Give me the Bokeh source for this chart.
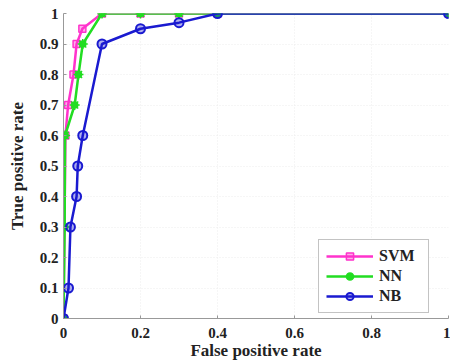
from bokeh.plotting import figure
from bokeh.models import Range1d, FixedTicker, Legend, LegendItem
from bokeh.embed import file_html
from bokeh.resources import INLINE

svm_x = [0, 0.005, 0.012, 0.026, 0.034, 0.049, 0.1, 0.2, 0.3, 0.4, 1.0]
svm_y = [0, 0.6, 0.7, 0.8, 0.9, 0.95, 1, 1, 1, 1, 1]
nn_x = [0, 0.003, 0.004, 0.029, 0.039, 0.05, 0.1, 0.2, 0.3, 0.4, 1.0]
nn_y = [0, 0.3, 0.6, 0.7, 0.8, 0.9, 1, 1, 1, 1, 1]
nb_x = [0, 0.013, 0.018, 0.034, 0.037, 0.05, 0.1, 0.2, 0.3, 0.4, 1.0]
nb_y = [0, 0.1, 0.3, 0.4, 0.5, 0.6, 0.9, 0.95, 0.97, 1, 1]

x_ticks = [0, 0.2, 0.4, 0.6, 0.8, 1]
y_ticks = [0, 0.1, 0.2, 0.3, 0.4, 0.5, 0.6, 0.7, 0.8, 0.9, 1]
x_labels = {0: "0", 0.2: "0.2", 0.4: "0.4", 0.6: "0.6", 0.8: "0.8", 1: "1"}
y_labels = {0: "0", 0.1: "0.1", 0.2: "0.2", 0.3: "0.3", 0.4: "0.4", 0.5: "0.5",
            0.6: "0.6", 0.7: "0.7", 0.8: "0.8", 0.9: "0.9", 1: "1"}

FONT = "'Liberation Serif', serif"

p = figure(width=450, height=362, output_backend="svg", toolbar_location=None,
           x_range=Range1d(0, 1), y_range=Range1d(0, 1),
           min_border_left=63, min_border_right=2, min_border_top=13, min_border_bottom=41)
p.outline_line_color = None
p.background_fill_color = "white"

for ax in (p.xaxis[0], p.yaxis[0]):
    ax.major_label_text_font = FONT
    ax.major_label_text_font_style = "bold"
    ax.major_label_text_font_size = "15px"
    ax.major_label_text_color = "#222222"
    ax.axis_label_text_font = FONT
    ax.axis_label_text_font_style = "bold"
    ax.axis_label_text_font_size = "17px"
    ax.axis_label_text_color = "#222222"
    ax.axis_line_color = "#999999"
    ax.major_tick_line_color = "#999999"
    ax.major_tick_in = 3
    ax.major_tick_out = 0
    ax.minor_tick_line_color = None

p.xaxis.ticker = FixedTicker(ticks=x_ticks)
p.yaxis.ticker = FixedTicker(ticks=y_ticks)
p.xaxis.major_label_overrides = x_labels
p.yaxis.major_label_overrides = y_labels
p.xaxis.axis_label = "False positive rate"
p.yaxis.axis_label = "True positive rate"
p.xaxis.major_label_standoff = 9
p.xaxis.axis_label_standoff = 0
p.yaxis.major_label_standoff = 5
p.yaxis.axis_label_standoff = 10

p.grid.grid_line_color = "#ececec"
p.grid.grid_line_dash = "1 2"

svm_col = "#ff33cc"
nn_col = "#22dd22"
nb_col = "#1a1ad0"

l1 = p.line(svm_x, svm_y, line_color=svm_col, line_width=2.5)
m1 = p.scatter(svm_x, svm_y, marker="square", size=7, line_color=svm_col,
               fill_color=svm_col, fill_alpha=0.4, line_width=1.5)
l2 = p.line(nn_x, nn_y, line_color=nn_col, line_width=2.5)
m2 = p.scatter(nn_x, nn_y, marker="circle", size=6, line_color=nn_col,
               fill_color=nn_col, line_width=1.5)
m2b = p.scatter(nn_x, nn_y, marker="asterisk", size=10, line_color=nn_col, line_width=1.5)
l3 = p.line(nb_x, nb_y, line_color=nb_col, line_width=2.5)
m3 = p.scatter(nb_x, nb_y, marker="circle", size=9, line_color=nb_col,
               fill_color=nb_col, fill_alpha=0.35, line_width=2)

legend = Legend(items=[
    LegendItem(label="SVM", renderers=[l1, m1]),
    LegendItem(label="NN", renderers=[l2, m2, m2b]),
    LegendItem(label="NB", renderers=[l3, m3]),
], location=(255, 5))
legend.label_text_font = FONT
legend.label_text_font_style = "bold"
legend.label_text_font_size = "16px"
legend.label_text_color = "#222222"
legend.border_line_color = "#888888"
legend.border_line_width = 1
legend.glyph_width = 47
legend.glyph_height = 18
legend.spacing = 2
legend.padding = 7
legend.margin = 0
legend.label_standoff = 6
legend.label_width = 42
legend.label_height = 18
legend.background_fill_alpha = 1
p.add_layout(legend, "center")

open("out.html", "w").write(file_html(p, INLINE))
